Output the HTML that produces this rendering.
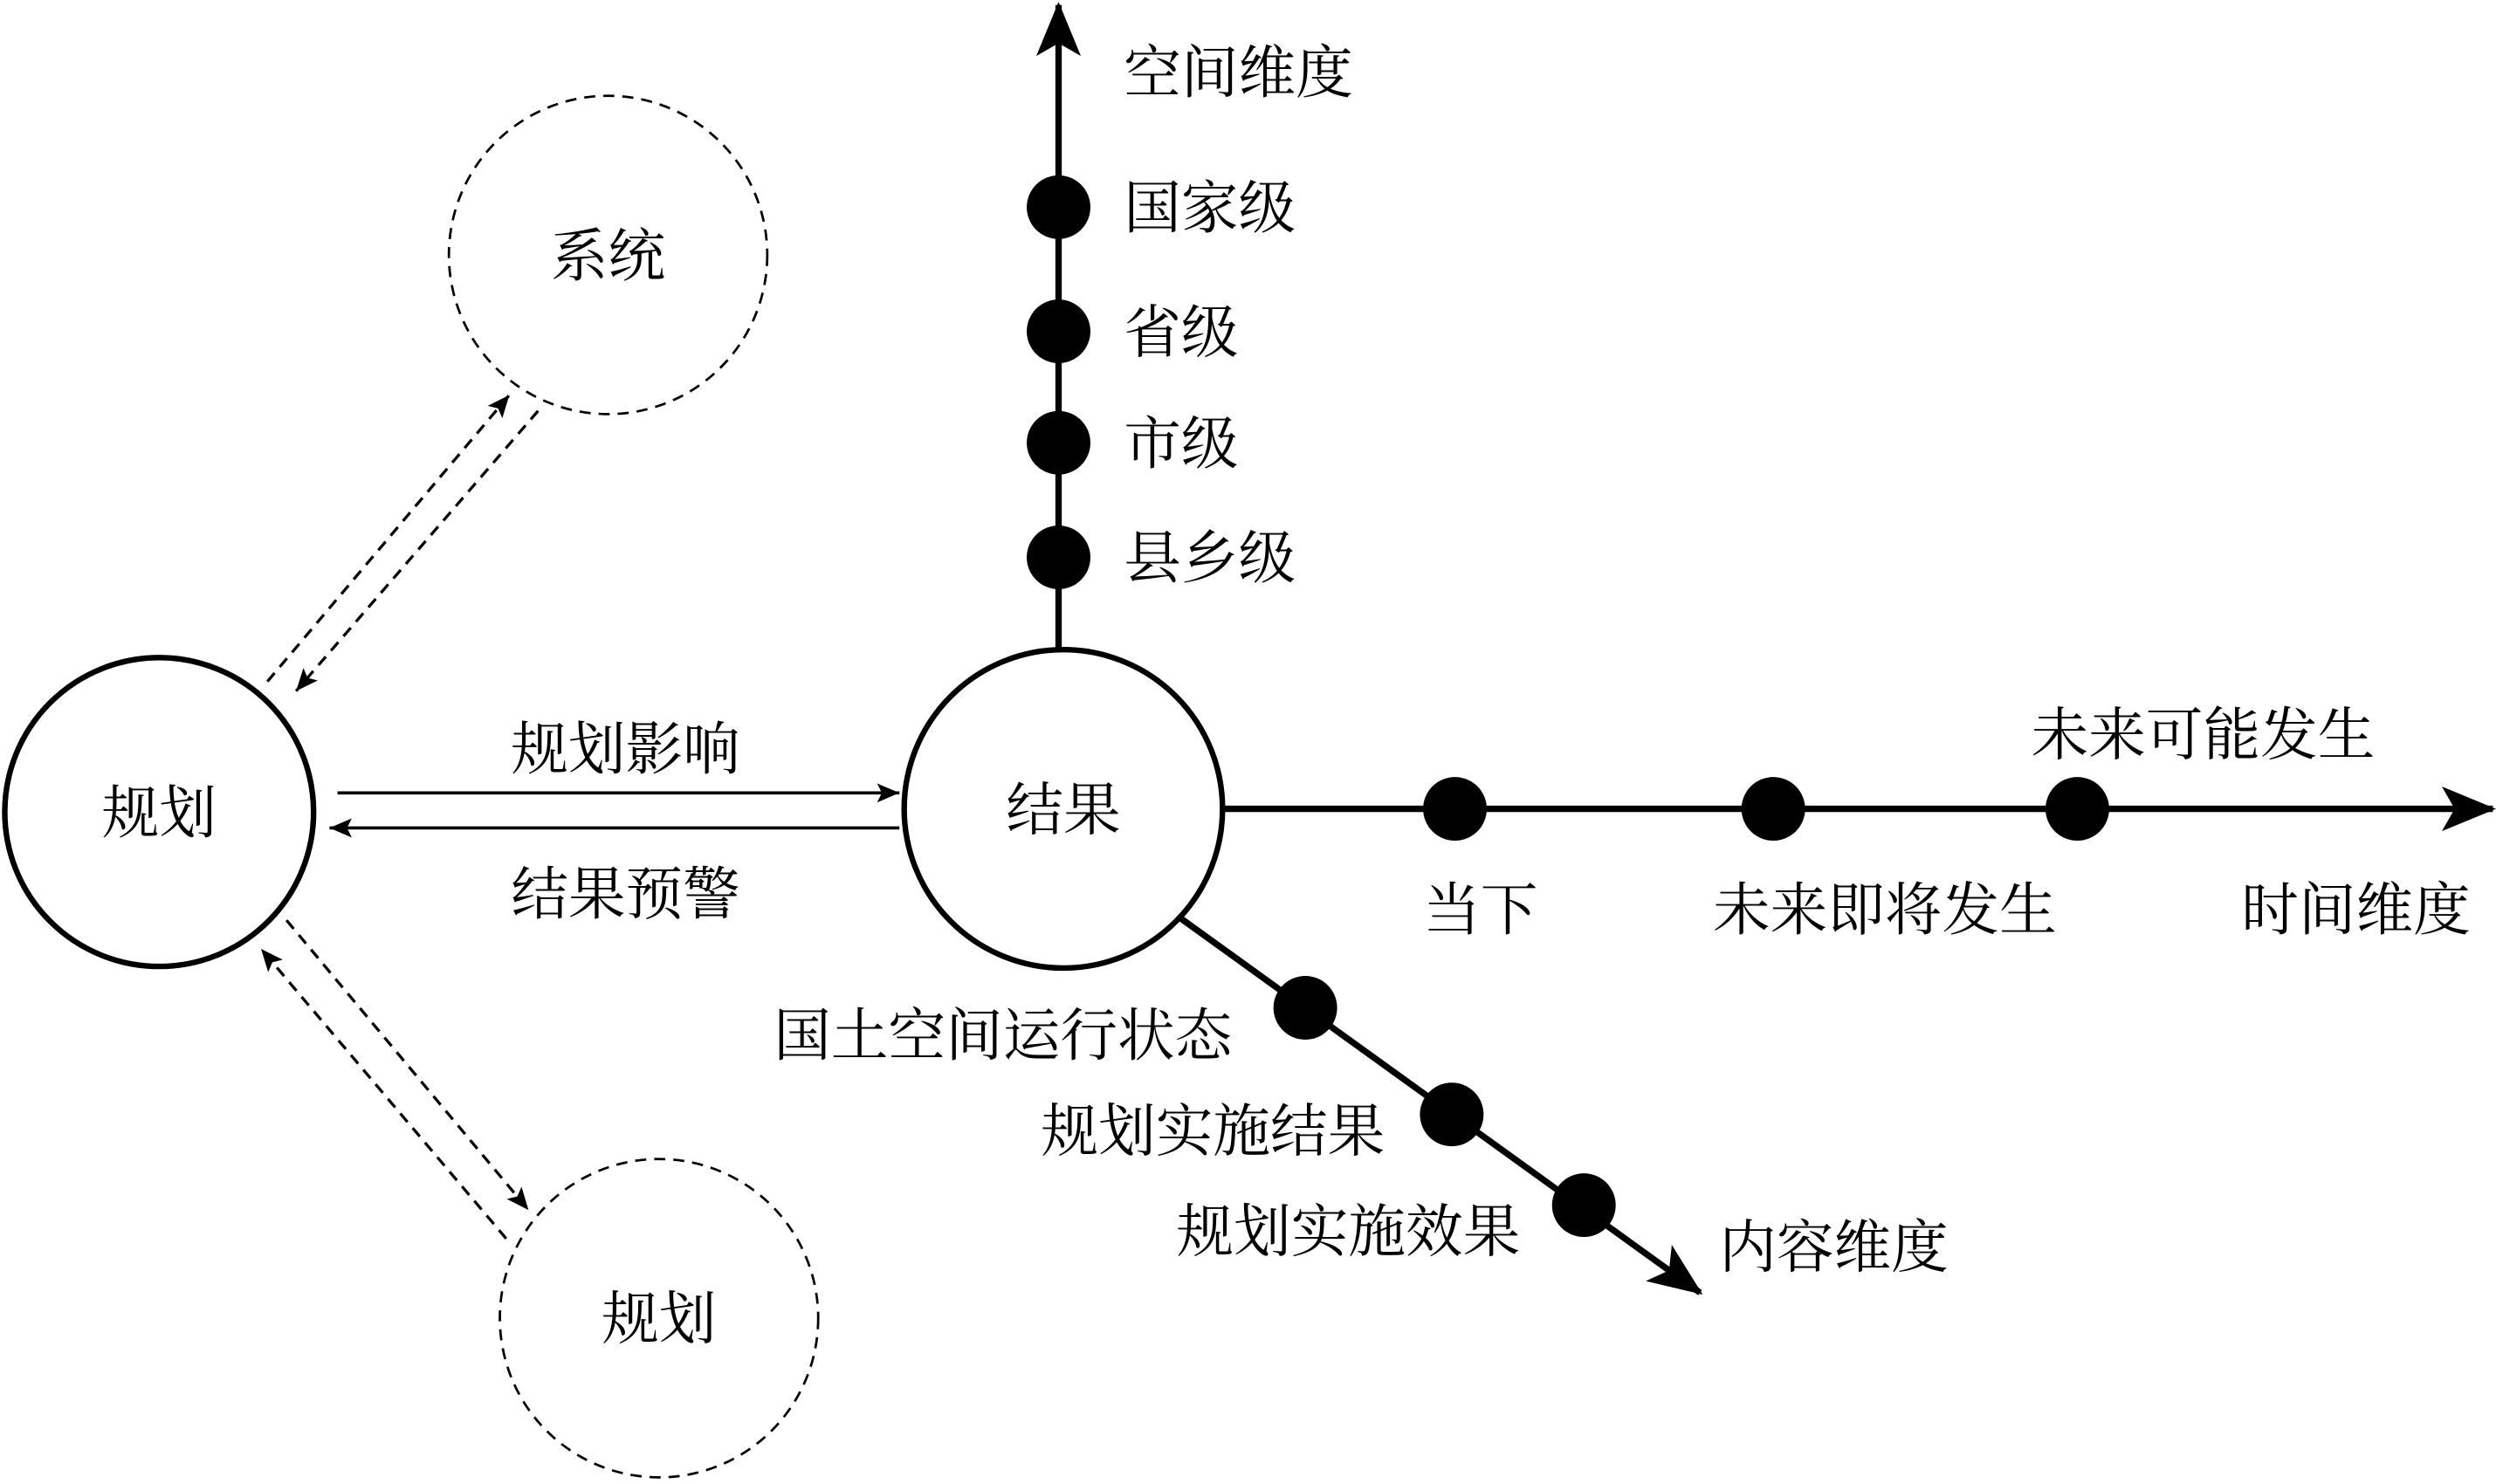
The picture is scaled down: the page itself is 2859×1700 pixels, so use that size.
<!DOCTYPE html>
<html><head><meta charset="utf-8">
<style>
html,body{margin:0;padding:0;background:#fff;}
svg{display:block;}
text{font-family:"Liberation Serif","Noto Serif CJK SC","Noto Sans CJK SC",serif;font-size:36px;fill:#000;}
</style></head>
<body>
<svg width="2859" height="1700" viewBox="0 0 1568 932" xmlns="http://www.w3.org/2000/svg">
<defs>
<marker id="ahs" markerWidth="14" markerHeight="12" refX="14" refY="6" orient="auto" markerUnits="userSpaceOnUse"><path d="M0,0 L14,6 L0,12 L3,6 Z" fill="#000"/></marker>
<marker id="ahb" markerWidth="34" markerHeight="28" refX="32" refY="14" orient="auto" markerUnits="userSpaceOnUse"><path d="M0,0 L34,14 L0,28 L8,14 Z" fill="#000"/></marker>
</defs>
<circle cx="100" cy="510" r="97" fill="none" stroke="#000" stroke-width="3.5"/>
<circle cx="668" cy="508" r="100" fill="none" stroke="#000" stroke-width="3.5"/>
<circle cx="382" cy="160" r="100" fill="none" stroke="#000" stroke-width="1.5" stroke-dasharray="7,5"/>
<circle cx="414" cy="828" r="100" fill="none" stroke="#000" stroke-width="1.5" stroke-dasharray="7,5"/>
<text x="100" y="523" text-anchor="middle">规划</text>
<text x="668" y="521" text-anchor="middle">结果</text>
<text x="382" y="173" text-anchor="middle">系统</text>
<text x="414" y="841" text-anchor="middle">规划</text>
<line x1="212" y1="498" x2="565" y2="498" stroke="#000" stroke-width="2" marker-end="url(#ahs)"/>
<line x1="565" y1="520" x2="207" y2="520" stroke="#000" stroke-width="2" marker-end="url(#ahs)"/>
<text x="393" y="483" text-anchor="middle">规划影响</text>
<text x="393" y="574" text-anchor="middle">结果预警</text>
<line x1="168" y1="428" x2="320" y2="248" stroke="#000" stroke-width="1.8" stroke-dasharray="7,5" marker-end="url(#ahs)"/>
<line x1="338" y1="258" x2="186" y2="434" stroke="#000" stroke-width="1.8" stroke-dasharray="7,5" marker-end="url(#ahs)"/>
<line x1="180" y1="578" x2="332" y2="760" stroke="#000" stroke-width="1.8" stroke-dasharray="7,5" marker-end="url(#ahs)"/>
<line x1="318" y1="778" x2="164" y2="596" stroke="#000" stroke-width="1.8" stroke-dasharray="7,5" marker-end="url(#ahs)"/>
<line x1="665" y1="408" x2="665" y2="3" stroke="#000" stroke-width="4" marker-end="url(#ahb)"/>
<circle cx="665" cy="130" r="20"/><circle cx="665" cy="208" r="20"/><circle cx="665" cy="278" r="20"/><circle cx="665" cy="350" r="20"/>
<text x="706" y="58">空间维度</text>
<text x="706" y="143">国家级</text>
<text x="706" y="221">省级</text>
<text x="706" y="291">市级</text>
<text x="706" y="363">县乡级</text>
<line x1="768" y1="508" x2="1566" y2="508" stroke="#000" stroke-width="4" marker-end="url(#ahb)"/>
<circle cx="914" cy="508" r="20"/><circle cx="1114" cy="508" r="20"/><circle cx="1305" cy="508" r="20"/>
<text x="930" y="584" text-anchor="middle">当下</text>
<text x="1184" y="584" text-anchor="middle">未来即将发生</text>
<text x="1384" y="474" text-anchor="middle">未来可能发生</text>
<text x="1480" y="584" text-anchor="middle">时间维度</text>
<line x1="742" y1="577" x2="1068" y2="812" stroke="#000" stroke-width="4" marker-end="url(#ahb)"/>
<circle cx="820" cy="633" r="20"/><circle cx="912" cy="700" r="20"/><circle cx="995" cy="757" r="20"/>
<text x="774" y="663" text-anchor="end">国土空间运行状态</text>
<text x="870" y="723" text-anchor="end">规划实施结果</text>
<text x="955" y="786" text-anchor="end">规划实施效果</text>
<text x="1080" y="796">内容维度</text>
</svg>
</body></html>
